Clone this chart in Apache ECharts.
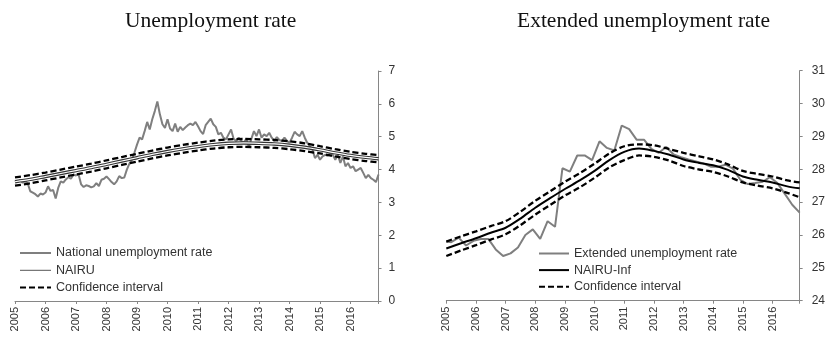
<!DOCTYPE html>
<html>
<head>
<meta charset="utf-8">
<script src="https://cdn.jsdelivr.net/npm/echarts@6.0.0/dist/echarts.min.js"></script>
<style>
  html, body { margin: 0; padding: 0; background: #fff; }
  #chart { width: 828px; height: 337px; }
</style>
</head>
<body>
<div id="chart"></div>
<script>
// Monthly axis: month index 0 = Jan 2005, 143 = Dec 2016
const startYear = 2005;
const lastMonth = 143;

// Left panel: national unemployment rate (monthly, %)
const nationalRate = [
  3.65, 3.62, 3.68, 3.60, 3.64, 3.58, 3.34, 3.30, 3.25, 3.18, 3.27, 3.24,
  3.30, 3.49, 3.35, 3.38, 3.12, 3.44, 3.64, 3.60, 3.70, 3.77, 3.72, 3.85,
  3.82, 3.86, 3.55, 3.47, 3.52, 3.50, 3.46, 3.49, 3.59, 3.50, 3.69, 3.72,
  3.79, 3.71, 3.62, 3.55, 3.64, 3.80, 3.74, 3.76, 4.00, 4.18, 4.30, 4.52,
  4.76, 4.97, 4.92, 5.17, 5.45, 5.22, 5.53, 5.78, 6.07, 5.68, 5.38, 5.27,
  5.53, 5.25, 5.17, 5.40, 5.15, 5.30, 5.20, 5.28, 5.35, 5.40, 5.35, 5.45,
  5.32, 5.17, 5.08, 5.35, 5.45, 5.55, 5.38, 5.30, 5.07, 5.12, 4.97, 4.92,
  5.07, 5.22, 4.94, 4.87, 4.97, 4.87, 4.82, 4.94, 4.69, 4.94, 5.17, 5.02,
  5.22, 4.97, 5.07, 5.02, 5.12, 4.97, 4.87, 4.99, 4.90, 4.87, 4.97, 4.87,
  4.82, 4.97, 5.15, 5.07, 5.02, 5.17, 4.97, 4.81, 4.71, 4.61, 4.35, 4.45,
  4.30, 4.40, 4.45, 4.42, 4.50, 4.45, 4.30, 4.45, 4.20, 4.40, 4.10, 4.20,
  4.05, 4.10, 3.95, 4.00, 4.05, 3.90, 3.74, 3.84, 3.74, 3.69, 3.62, 3.85
];

// Semi-annual estimates (months 0, 6, ..., 138, 143)
const halfYearMonths = [0, 6, 12, 18, 24, 30, 36, 42, 48, 54, 60, 66, 72, 78, 84, 90, 96, 102, 108, 114, 120, 126, 132, 138, 143];

const nairu = [3.63, 3.70, 3.79, 3.88, 3.97, 4.06, 4.16, 4.26, 4.36, 4.46, 4.55, 4.63, 4.70, 4.76, 4.80, 4.81, 4.80, 4.78, 4.74, 4.68, 4.60, 4.51, 4.43, 4.37, 4.33];
const nairuUpper = [3.76, 3.83, 3.91, 4.00, 4.09, 4.18, 4.28, 4.38, 4.48, 4.58, 4.67, 4.75, 4.82, 4.88, 4.92, 4.93, 4.92, 4.90, 4.86, 4.80, 4.71, 4.62, 4.54, 4.48, 4.44];
const nairuLower = [3.51, 3.58, 3.67, 3.76, 3.85, 3.94, 4.04, 4.14, 4.24, 4.34, 4.43, 4.51, 4.58, 4.64, 4.68, 4.69, 4.68, 4.66, 4.62, 4.56, 4.49, 4.40, 4.32, 4.26, 4.22];

// Right panel: extended unemployment rate (Jan 2005, then quarter ends)
const extendedMonths = [0].concat(Array.from({ length: 48 }, (_, q) => 3 * q + 2));
const extendedRate = [
  25.80,
  25.78, 25.92, 25.68, 25.82,
  25.88, 25.88, 25.56, 25.36,
  25.44, 25.62, 26.00, 26.17,
  25.88, 26.42, 26.25, 28.03,
  27.93, 28.42, 28.42, 28.28,
  28.85, 28.65, 28.57, 29.33,
  29.22, 28.90, 28.90, 28.62,
  28.50, 28.68, 28.45, 28.37,
  28.30, 28.24, 28.18, 28.08,
  28.08, 28.14, 28.02, 27.68,
  27.55, 27.58, 27.62, 27.76,
  27.58, 27.25, 26.92, 26.68
];

const nairuInf = [25.59, 25.75, 25.90, 26.07, 26.22, 26.50, 26.83, 27.12, 27.40, 27.66, 27.95, 28.28, 28.53, 28.63, 28.56, 28.45, 28.30, 28.20, 28.12, 27.98, 27.78, 27.68, 27.60, 27.48, 27.42];
const nairuInfUpper = [25.80, 25.96, 26.11, 26.27, 26.42, 26.71, 27.04, 27.33, 27.62, 27.88, 28.17, 28.48, 28.70, 28.76, 28.73, 28.62, 28.50, 28.40, 28.30, 28.15, 27.95, 27.86, 27.78, 27.66, 27.60];
const nairuInfLower = [25.36, 25.53, 25.69, 25.86, 26.02, 26.30, 26.62, 26.91, 27.20, 27.45, 27.74, 28.06, 28.28, 28.42, 28.38, 28.27, 28.10, 28.00, 27.92, 27.78, 27.60, 27.50, 27.42, 27.28, 27.15];

const yTicksLeft = { min: 0, max: 7, step: 1 };
const yTicksRight = { min: 24, max: 31, step: 1 };

const pairs = (xs, ys) => xs.map((x, i) => [x, ys[i]]);
const monthly = ys => ys.map((v, i) => [i, v]);

const AXIS_GREY = '#868686';
const LABEL = '#333';
const SANS = 'Liberation Sans, Arial, sans-serif';
const SERIF = 'Liberation Serif, Times New Roman, serif';
const DASH = [6, 3];

function xAxis(gridIndex) {
  return {
    type: 'value', gridIndex, min: 0, max: lastMonth, interval: 12,
    axisLine: { show: true, onZero: false, lineStyle: { color: AXIS_GREY, width: 1 } },
    axisTick: { show: true, length: 3, lineStyle: { color: AXIS_GREY } },
    splitLine: { show: false },
    axisLabel: {
      rotate: 90, fontSize: 11, color: LABEL, fontFamily: SANS, margin: 6,
      formatter: v => (v % 12 === 0 ? String(startYear + v / 12) : '')
    }
  };
}

function yAxis(gridIndex, t, labelGap) {
  return {
    type: 'value', gridIndex, position: 'right', min: t.min, max: t.max, interval: t.step,
    axisLine: { show: true, onZero: false, lineStyle: { color: AXIS_GREY, width: 1 } },
    axisTick: { show: true, length: 3, lineStyle: { color: AXIS_GREY } },
    splitLine: { show: false },
    axisLabel: { fontSize: 12, color: LABEL, fontFamily: SANS, margin: labelGap }
  };
}

const line = (name, idx, data, style, extra) => Object.assign({
  name, type: 'line', xAxisIndex: idx, yAxisIndex: idx, data,
  symbol: 'none', silent: true, lineStyle: style
}, extra || {});

const legendBase = {
  orient: 'vertical', padding: 5, itemHeight: 14,
  itemStyle: { opacity: 0 },
  textStyle: { fontFamily: SANS, fontSize: 12.5, color: LABEL }
};

const chart = echarts.init(document.getElementById('chart'), null, { renderer: 'canvas' });

chart.setOption({
  animation: false,
  backgroundColor: '#fff',
  title: [
    { text: 'Unemployment rate', left: 125, top: 10, padding: 0,
      textStyle: { fontFamily: SERIF, fontSize: 21.5, fontWeight: 'normal', color: '#111' } },
    { text: 'Extended unemployment rate', left: 517, top: 10, padding: 0,
      textStyle: { fontFamily: SERIF, fontSize: 21.5, fontWeight: 'normal', color: '#111' } }
  ],
  grid: [
    { left: 15, top: 71, width: 363.5, height: 230, containLabel: false },
    { left: 446.3, top: 70.7, width: 360.7, height: 230, containLabel: false }
  ],
  xAxis: [xAxis(0), xAxis(1)],
  yAxis: [yAxis(0, yTicksLeft, 10), yAxis(1, yTicksRight, 12)],
  legend: [
    Object.assign({}, legendBase, {
      left: 14, top: 241.5, itemWidth: 31, itemGap: 4.3,
      data: [
        { name: 'National unemployment rate' },
        { name: 'NAIRU', lineStyle: { width: 1, color: '#555' } },
        { name: 'Confidence interval' }
      ]
    }),
    Object.assign({}, legendBase, {
      left: 533, top: 242, itemWidth: 30, itemGap: 3.6,
      data: [
        { name: 'Extended unemployment rate' },
        { name: 'NAIRU-Inf' },
        { name: 'Confidence interval' }
      ]
    })
  ],
  series: [
    line('National unemployment rate', 0, monthly(nationalRate), { color: '#7f7f7f', width: 2 }),
    line('NAIRU', 0, pairs(halfYearMonths, nairu), { color: '#333', width: 3.4 }, { smooth: 0.3 }),
    line('NAIRU', 0, pairs(halfYearMonths, nairu), { color: '#fff', width: 1.2 }, { smooth: 0.3 }),
    line('Confidence interval', 0, pairs(halfYearMonths, nairuUpper), { color: '#000', width: 2.3, type: DASH }, { smooth: 0.3 }),
    line('Confidence interval', 0, pairs(halfYearMonths, nairuLower), { color: '#000', width: 2.3, type: DASH }, { smooth: 0.3 }),

    line('Extended unemployment rate', 1, pairs(extendedMonths, extendedRate), { color: '#7f7f7f', width: 2 }),
    line('NAIRU-Inf', 1, pairs(halfYearMonths, nairuInf), { color: '#000', width: 2 }, { smooth: 0.3 }),
    line('Confidence interval', 1, pairs(halfYearMonths, nairuInfUpper), { color: '#000', width: 2.3, type: DASH }, { smooth: 0.3 }),
    line('Confidence interval', 1, pairs(halfYearMonths, nairuInfLower), { color: '#000', width: 2.3, type: DASH }, { smooth: 0.3 })
  ]
});
</script>
</body>
</html>
